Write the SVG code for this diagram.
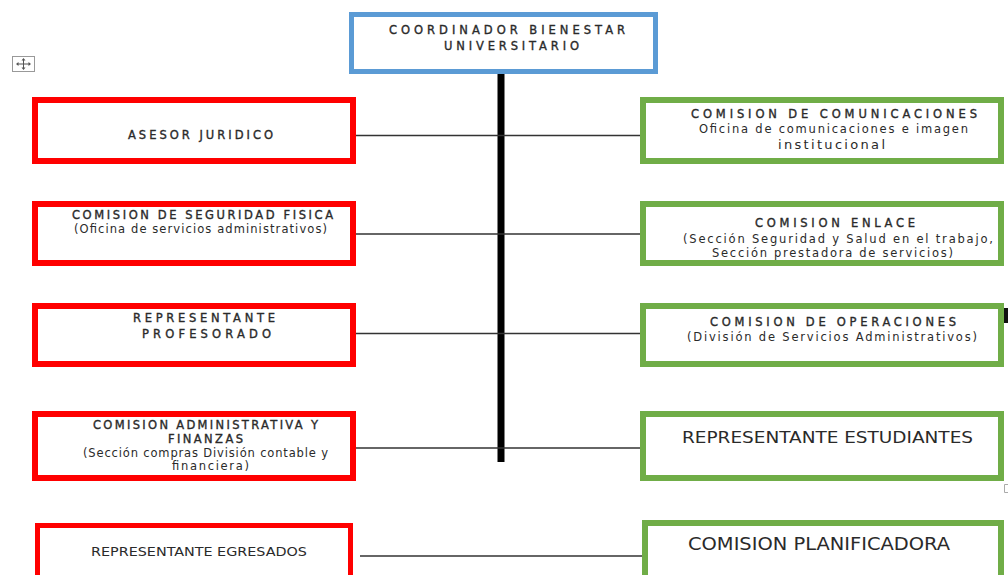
<svg xmlns="http://www.w3.org/2000/svg" width="1008" height="575" viewBox="0 0 1008 575">
<style>
.t{font-family:"DejaVu Sans","Liberation Sans",sans-serif;fill:#2a2a2a;font-size:11px}
.h{font-size:11.5px;stroke:#2a2a2a;stroke-width:0.35}
.s{font-size:11.5px}
.c{font-family:"Liberation Sans Narrow","DejaVu Sans Condensed","Liberation Sans",sans-serif;font-stretch:condensed}
.red{fill:#fff;stroke:#ff0000;stroke-width:6}
.grn{fill:#fff;stroke:#70ad47;stroke-width:6}
.blu{fill:#fff;stroke:#5b9bd5;stroke-width:5}
.ln{stroke:#333;stroke-width:1.5;fill:none}
</style>
<rect width="1008" height="575" fill="#fff"/>
<g id="move-handle">
<rect x="12.5" y="56.5" width="22" height="15" fill="#fff" stroke="#999" stroke-width="1"/>
<path d="M23.5 59v10M17 64h13" stroke="#555" stroke-width="1"/>
<path d="M23.5 58l-2 2.5h4zM23.5 70l-2-2.5h4zM16 64l2.5-2v4zM31 64l-2.5-2v4z" fill="#555"/>
</g>
<g id="connectors">
<rect x="497.5" y="74" width="7" height="388" fill="#000"/>
<line class="ln" x1="356" y1="135.5" x2="640" y2="135.5"/>
<line class="ln" x1="356" y1="234" x2="640" y2="234"/>
<line class="ln" x1="356" y1="333.5" x2="640" y2="333.5"/>
<line class="ln" x1="356" y1="448" x2="640" y2="448"/>
<line class="ln" x1="360" y1="556" x2="649" y2="556"/>
</g>
<g id="coordinador">
<rect class="blu" x="351.5" y="14.5" width="304" height="57"/>
<text class="t h" x="389" y="34" textLength="236" lengthAdjust="spacing">COORDINADOR BIENESTAR</text>
<text class="t h" x="444" y="50" textLength="135" lengthAdjust="spacing">UNIVERSITARIO</text>
</g>
<g id="asesor-juridico">
<rect class="red" x="35" y="100" width="318" height="61"/>
<text class="t h" x="128" y="139" textLength="145" lengthAdjust="spacing">ASESOR JURIDICO</text>
</g>
<g id="comision-seguridad">
<rect class="red" x="35" y="204" width="318" height="59"/>
<text class="t h" x="72" y="219" textLength="261" lengthAdjust="spacing">COMISION DE SEGURIDAD  FISICA</text>
<text class="t s" x="74" y="233" textLength="253" lengthAdjust="spacing">(Oficina de  servicios  administrativos)</text>
</g>
<g id="representante-profesorado">
<rect class="red" x="35" y="306" width="318" height="58"/>
<text class="t h" x="133" y="322" textLength="142" lengthAdjust="spacing">REPRESENTANTE</text>
<text class="t h" x="142" y="338" textLength="129" lengthAdjust="spacing">PROFESORADO</text>
</g>
<g id="comision-administrativa">
<rect class="red" x="35" y="414" width="318" height="64"/>
<text class="t h" x="93" y="429" textLength="225" lengthAdjust="spacing">COMISION ADMINISTRATIVA Y</text>
<text class="t h" x="168" y="443" textLength="75" lengthAdjust="spacing">FINANZAS</text>
<text class="t s" x="83" y="457" textLength="245" lengthAdjust="spacing">(Sección compras División contable y</text>
<text class="t s" x="172" y="470" textLength="77" lengthAdjust="spacing">financiera)</text>
</g>
<g id="representante-egresados">
<rect class="red" x="37.5" y="525.5" width="313" height="70" style="stroke-width:5"/>
<text class="t c" x="91" y="556" style="font-size:13px" textLength="216" lengthAdjust="spacingAndGlyphs">REPRESENTANTE EGRESADOS</text>
</g>
<g id="comision-comunicaciones">
<rect class="grn" x="643" y="100" width="358" height="61"/>
<text class="t h" x="691" y="118" textLength="286" lengthAdjust="spacing">COMISION DE COMUNICACIONES</text>
<text class="t s" x="699" y="133" textLength="269" lengthAdjust="spacing">Oficina de comunicaciones e imagen</text>
<text class="t" x="778" y="149" style="font-size:13px" textLength="107" lengthAdjust="spacing">institucional</text>
</g>
<g id="comision-enlace">
<rect class="grn" x="643" y="204" width="358" height="59"/>
<text class="t h" x="755" y="227" textLength="160" lengthAdjust="spacing">COMISION ENLACE</text>
<text class="t s" x="683" y="243" textLength="310" lengthAdjust="spacing">(Sección Seguridad y Salud en el trabajo,</text>
<text class="t s" x="712" y="257" textLength="241" lengthAdjust="spacing">Sección prestadora de servicios)</text>
</g>
<g id="comision-operaciones">
<rect class="grn" x="643" y="306" width="358" height="58"/>
<text class="t h" x="710" y="326" textLength="246" lengthAdjust="spacing">COMISION DE OPERACIONES</text>
<text class="t s" x="687" y="341" textLength="290" lengthAdjust="spacing">(División de Servicios Administrativos)</text>
</g>
<g id="representante-estudiantes">
<rect class="grn" x="643" y="414" width="358" height="64"/>
<text class="t" x="682" y="443" style="font-size:15.5px" textLength="291" lengthAdjust="spacingAndGlyphs">REPRESENTANTE  ESTUDIANTES</text>
</g>
<g id="comision-planificadora">
<rect class="grn" x="645" y="523" width="356" height="70"/>
<text class="t c" x="688" y="550" style="font-size:17px" textLength="262" lengthAdjust="spacingAndGlyphs">COMISION  PLANIFICADORA</text>
</g>
<rect x="1004" y="308" width="4" height="15" fill="#111"/>
<path d="M1008 484.5h-3.5v8h3.5" fill="none" stroke="#aaa" stroke-width="1"/>
</svg>
